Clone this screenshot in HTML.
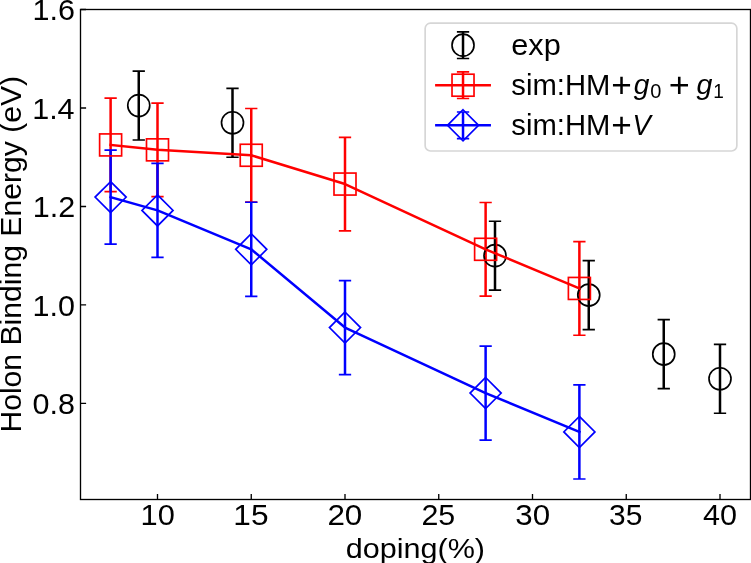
<!DOCTYPE html>
<html><head><meta charset="utf-8"><style>html,body{margin:0;padding:0;background:#fff;overflow:hidden}svg{display:block}</style></head>
<body><svg style="will-change:transform" width="751" height="563" viewBox="0 0 751 563">
<rect width="751" height="563" fill="#fff"/>
<path d="M138.75 71.08V140.00 M232.50 88.31V157.23 M495.00 221.24V290.16 M588.75 260.62V329.55 M663.75 319.70V388.63 M720.00 344.32V413.24" stroke="#000" stroke-width="2.5" fill="none"/><path d="M132.60 71.08h12.3 M132.60 140.00h12.3 M226.35 88.31h12.3 M226.35 157.23h12.3 M488.85 221.24h12.3 M488.85 290.16h12.3 M582.60 260.62h12.3 M582.60 329.55h12.3 M657.60 319.70h12.3 M657.60 388.63h12.3 M713.85 344.32h12.3 M713.85 413.24h12.3" stroke="#000" stroke-width="1.67" fill="none"/>
<path d="M110.62 98.15V191.70 M157.50 103.08V196.62 M251.25 108.49V202.04 M345.00 137.29V230.84 M485.62 202.53V296.07 M579.38 241.67V335.21" stroke="#f00" stroke-width="2.5" fill="none"/><path d="M104.47 98.15h12.3 M104.47 191.70h12.3 M151.35 103.08h12.3 M151.35 196.62h12.3 M245.10 108.49h12.3 M245.10 202.04h12.3 M338.85 137.29h12.3 M338.85 230.84h12.3 M479.48 202.53h12.3 M479.48 296.07h12.3 M573.23 241.67h12.3 M573.23 335.21h12.3" stroke="#f00" stroke-width="1.67" fill="none"/>
<path d="M110.62 150.09V244.13 M157.50 163.39V257.42 M251.25 202.28V296.32 M345.00 280.56V374.60 M485.62 346.04V440.08 M579.38 384.94V478.97" stroke="#00f" stroke-width="2.5" fill="none"/><path d="M104.47 150.09h12.3 M104.47 244.13h12.3 M151.35 163.39h12.3 M151.35 257.42h12.3 M245.10 202.28h12.3 M245.10 296.32h12.3 M338.85 280.56h12.3 M338.85 374.60h12.3 M479.48 346.04h12.3 M479.48 440.08h12.3 M573.23 384.94h12.3 M573.23 478.97h12.3" stroke="#00f" stroke-width="1.67" fill="none"/>
<circle cx="138.75" cy="105.54" r="11.00" stroke="#000" stroke-width="1.67" fill="none"/><circle cx="232.50" cy="122.77" r="11.00" stroke="#000" stroke-width="1.67" fill="none"/><circle cx="495.00" cy="255.70" r="11.00" stroke="#000" stroke-width="1.67" fill="none"/><circle cx="588.75" cy="295.09" r="11.00" stroke="#000" stroke-width="1.67" fill="none"/><circle cx="663.75" cy="354.16" r="11.00" stroke="#000" stroke-width="1.67" fill="none"/><circle cx="720.00" cy="378.78" r="11.00" stroke="#000" stroke-width="1.67" fill="none"/>
<polyline points="110.62,144.92 157.50,149.85 251.25,155.26 345.00,184.06 485.62,249.30 579.38,288.44" stroke="#f00" stroke-width="2.5" fill="none" stroke-linejoin="round" stroke-linecap="square"/>
<rect x="99.62" y="133.92" width="22.0" height="22.0" stroke="#f00" stroke-width="1.67" fill="none" stroke-linejoin="miter"/><rect x="146.50" y="138.85" width="22.0" height="22.0" stroke="#f00" stroke-width="1.67" fill="none" stroke-linejoin="miter"/><rect x="240.25" y="144.26" width="22.0" height="22.0" stroke="#f00" stroke-width="1.67" fill="none" stroke-linejoin="miter"/><rect x="334.00" y="173.06" width="22.0" height="22.0" stroke="#f00" stroke-width="1.67" fill="none" stroke-linejoin="miter"/><rect x="474.62" y="238.30" width="22.0" height="22.0" stroke="#f00" stroke-width="1.67" fill="none" stroke-linejoin="miter"/><rect x="568.38" y="277.44" width="22.0" height="22.0" stroke="#f00" stroke-width="1.67" fill="none" stroke-linejoin="miter"/>
<polyline points="110.62,197.11 157.50,210.40 251.25,249.30 345.00,327.58 485.62,393.06 579.38,431.95" stroke="#00f" stroke-width="2.5" fill="none" stroke-linejoin="round" stroke-linecap="square"/>
<path d="M110.62 181.56L126.18 197.11L110.62 212.67L95.07 197.11Z" stroke="#00f" stroke-width="1.67" fill="none" stroke-linejoin="miter"/><path d="M157.50 194.85L173.06 210.40L157.50 225.96L141.94 210.40Z" stroke="#00f" stroke-width="1.67" fill="none" stroke-linejoin="miter"/><path d="M251.25 233.74L266.81 249.30L251.25 264.86L235.69 249.30Z" stroke="#00f" stroke-width="1.67" fill="none" stroke-linejoin="miter"/><path d="M345.00 312.02L360.56 327.58L345.00 343.14L329.44 327.58Z" stroke="#00f" stroke-width="1.67" fill="none" stroke-linejoin="miter"/><path d="M485.62 377.50L501.18 393.06L485.62 408.62L470.07 393.06Z" stroke="#00f" stroke-width="1.67" fill="none" stroke-linejoin="miter"/><path d="M579.38 416.40L594.93 431.95L579.38 447.51L563.82 431.95Z" stroke="#00f" stroke-width="1.67" fill="none" stroke-linejoin="miter"/>
<rect x="80.5" y="9.5" width="670.0" height="490.0" fill="none" stroke="#000" stroke-width="1.33"/>
<path d="M157.50 499.5v-5.6M251.25 499.5v-5.6M345.00 499.5v-5.6M438.75 499.5v-5.6M532.50 499.5v-5.6M626.25 499.5v-5.6M720.00 499.5v-5.6M80.5 403.40h5.6M80.5 304.93h5.6M80.5 206.47h5.6M80.5 108.00h5.6M80.5 9.53h5.6" stroke="#000" stroke-width="1.33" fill="none"/>
<g font-family="Liberation Sans" fill="#000"><text transform="translate(32.46,414.15) scale(1.0533,1)" font-size="29.00">0.8</text><text transform="translate(32.46,315.68) scale(1.0533,1)" font-size="29.00">1.0</text><text transform="translate(32.77,217.22) scale(1.0533,1)" font-size="29.00">1.2</text><text transform="translate(32.16,118.75) scale(1.0533,1)" font-size="29.00">1.4</text><text transform="translate(32.46,20.28) scale(1.0533,1)" font-size="29.00">1.6</text><text transform="translate(140.54,525.40) scale(1.0623,1)" font-size="29.00">10</text><text transform="translate(233.37,525.40) scale(1.0746,1)" font-size="29.42">15</text><text transform="translate(327.38,525.40) scale(1.0835,1)" font-size="29.00">20</text><text transform="translate(421.38,525.40) scale(1.0480,1)" font-size="29.00">25</text><text transform="translate(515.35,525.40) scale(1.0780,1)" font-size="29.00">30</text><text transform="translate(609.10,525.40) scale(1.0311,1)" font-size="29.00">35</text><text transform="translate(702.99,525.40) scale(1.0542,1)" font-size="29.00">40</text><text transform="translate(345.68,557.50) scale(1.0838,1)" font-size="28.22">doping(%)</text><text transform="translate(21.00,432.61) rotate(-90) scale(1.0449,1)" font-size="28.84">Holon Binding Energy (eV)</text></g>
<rect x="425.15" y="23.2" width="311.7" height="127.8" rx="5.33" ry="5.33" fill="#fff" fill-opacity="0.8" stroke="#d6d6d6" stroke-width="1.67"/><path d="M463.02 31.87V58.53" stroke="#000" stroke-width="2.5"/><path d="M456.88 31.87h12.3 M456.88 58.53h12.3" stroke="#000" stroke-width="1.67"/><circle cx="463.02" cy="45.20" r="11.00" stroke="#000" stroke-width="1.67" fill="none"/><path d="M463.02 71.87V98.53" stroke="#f00" stroke-width="2.5"/><path d="M456.88 71.87h12.3 M456.88 98.53h12.3" stroke="#f00" stroke-width="1.67"/><path d="M436.35 85.20H489.70" stroke="#f00" stroke-width="2.5" stroke-linecap="square"/><rect x="452.02" y="74.20" width="22.0" height="22.0" stroke="#f00" stroke-width="1.67" fill="none" stroke-linejoin="miter"/><path d="M463.02 111.97V138.63" stroke="#00f" stroke-width="2.5"/><path d="M456.88 111.97h12.3 M456.88 138.63h12.3" stroke="#00f" stroke-width="1.67"/><path d="M436.35 125.30H489.70" stroke="#00f" stroke-width="2.5" stroke-linecap="square"/><path d="M463.02 109.74L478.58 125.30L463.02 140.86L447.47 125.30Z" stroke="#00f" stroke-width="1.67" fill="none" stroke-linejoin="miter"/><g font-family="Liberation Sans" fill="#000"><text transform="translate(511.27,54.80) scale(1.0633,1)" font-size="28.89">exp</text><text transform="translate(511.32,94.60) scale(1.0087,1)" font-size="28.99">sim:HM</text><text transform="translate(511.32,134.60) scale(1.0087,1)" font-size="28.99">sim:HM</text><text transform="translate(611.24,97.09) scale(1.0269,1)" font-size="34.29">+</text><text transform="translate(633.70,93.75) scale(1.0101,1)" font-size="27.87" font-style="italic">g</text><text transform="translate(650.30,98.20) scale(1.0143,1)" font-size="19.72">0</text><text transform="translate(668.80,97.09) scale(1.0512,1)" font-size="34.29">+</text><text transform="translate(696.40,93.75) scale(1.0234,1)" font-size="27.87" font-style="italic">g</text><text transform="translate(713.37,98.40) scale(0.9535,1)" font-size="20.00">1</text><text transform="translate(611.24,137.09) scale(1.0269,1)" font-size="34.29">+</text><text transform="translate(632.44,134.60) scale(0.9401,1)" font-size="29.13" font-style="italic">V</text></g>
</svg></body></html>
